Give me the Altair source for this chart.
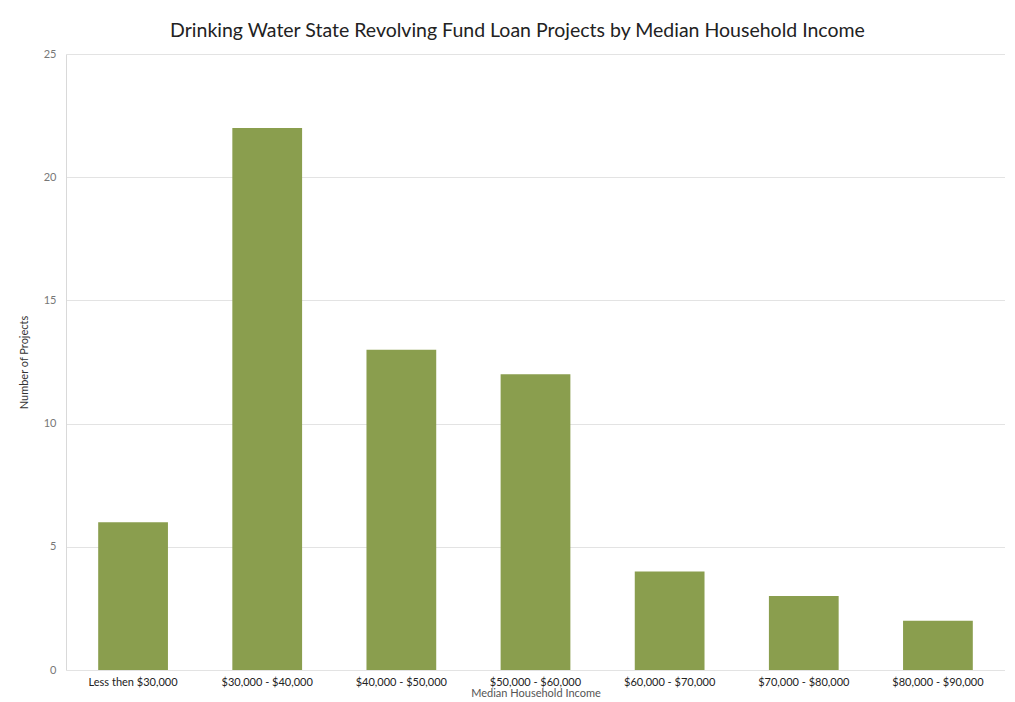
import altair as alt
import pandas as pd

categories = ["Less then $30,000", "$30,000  - $40,000", "$40,000  - $50,000",
              "$50,000  - $60,000", "$60,000  - $70,000", "$70,000 - $80,000",
              "$80,000  - $90,000"]
projects = [6, 22, 13, 12, 4, 3, 2]

df = pd.DataFrame({"income": categories, "projects": projects})

font = "Lato"

chart = alt.Chart(df).mark_bar(color="#8A9E4E").encode(
    x=alt.X("income:N", sort=categories,
            scale=alt.Scale(paddingInner=0.48, paddingOuter=0.24),
            axis=alt.Axis(title="Median Household Income", labelAngle=0,
                          labelFontSize=11, labelColor="#222222", labelFont=font,
                          titleFont=font, titleFontSize=11, titleFontWeight="normal",
                          titleColor="#555555", titlePadding=0,
                          ticks=False, domain=False, labelPadding=6)),
    y=alt.Y("projects:Q", scale=alt.Scale(domain=[0, 25]),
            axis=alt.Axis(title="Number of Projects", values=[0, 5, 10, 15, 20, 25],
                          labelFontSize=11, labelColor="#777777", labelFont=font,
                          titleFont=font, titleFontSize=11, titleFontWeight="normal",
                          titleColor="#333333", titlePadding=14,
                          ticks=False, domainColor="#D9D9D9", labelPadding=10,
                          gridColor="#E3E3E3")),
).properties(
    width=939, height=616,
    title=alt.TitleParams("Drinking Water State Revolving Fund Loan Projects by Median Household Income",
                          font=font, fontSize=19.5, fontWeight="normal", color="#222222",
                          anchor="middle", offset=7, dx=-18),
    autosize=alt.AutoSizeParams(type="none"),
    padding={"left": 58, "top": 46, "right": 0, "bottom": 36},
).configure_view(stroke=None)

chart.save("out.html", embed_options={"renderer": "svg", "actions": False})
